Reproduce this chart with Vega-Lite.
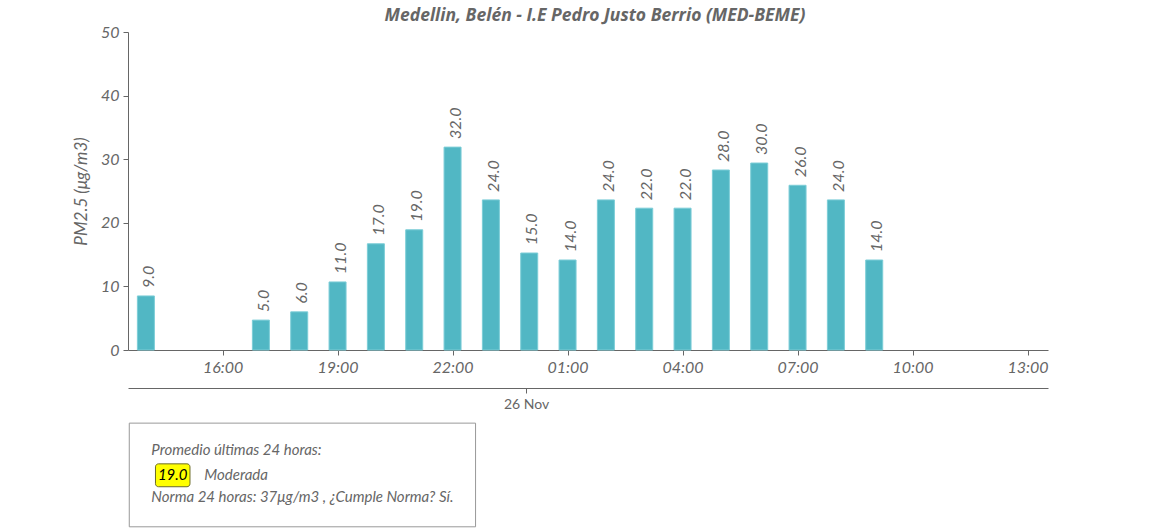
{
  "$schema": "https://vega.github.io/schema/vega-lite/v6.json",
  "width": 920,
  "height": 318,
  "autosize": {"type": "none"},
  "padding": {"left": 128, "top": 32, "right": 102, "bottom": 180},
  "background": "white",
  "config": {"view": {"stroke": null}, "font": "Lato"},
  "title": {
    "text": "Medellin, Belén - I.E Pedro Justo Berrio (MED-BEME)",
    "font": "Open Sans",
    "fontSize": 17.5,
    "fontStyle": "italic",
    "fontWeight": "bold",
    "color": "#666666",
    "anchor": "middle",
    "dx": 7,
    "offset": 0
  },
  "datasets": {
    "pm": [
      {"t": "2024-11-25T14:00:00", "value": 8.5, "label": "9.0"},
      {"t": "2024-11-25T17:00:00", "value": 4.7, "label": "5.0"},
      {"t": "2024-11-25T18:00:00", "value": 6.0, "label": "6.0"},
      {"t": "2024-11-25T19:00:00", "value": 10.7, "label": "11.0"},
      {"t": "2024-11-25T20:00:00", "value": 16.7, "label": "17.0"},
      {"t": "2024-11-25T21:00:00", "value": 18.9, "label": "19.0"},
      {"t": "2024-11-25T22:00:00", "value": 31.9, "label": "32.0"},
      {"t": "2024-11-25T23:00:00", "value": 23.6, "label": "24.0"},
      {"t": "2024-11-26T00:00:00", "value": 15.25, "label": "15.0"},
      {"t": "2024-11-26T01:00:00", "value": 14.15, "label": "14.0"},
      {"t": "2024-11-26T02:00:00", "value": 23.6, "label": "24.0"},
      {"t": "2024-11-26T03:00:00", "value": 22.3, "label": "22.0"},
      {"t": "2024-11-26T04:00:00", "value": 22.3, "label": "22.0"},
      {"t": "2024-11-26T05:00:00", "value": 28.3, "label": "28.0"},
      {"t": "2024-11-26T06:00:00", "value": 29.4, "label": "30.0"},
      {"t": "2024-11-26T07:00:00", "value": 25.9, "label": "26.0"},
      {"t": "2024-11-26T08:00:00", "value": 23.6, "label": "24.0"},
      {"t": "2024-11-26T09:00:00", "value": 14.15, "label": "14.0"}
    ],
    "box": [
      {"t": "2024-11-25T13:34:00", "t2": "2024-11-25T22:36:00", "value": -11.5, "value2": -27.8}
    ],
    "badge": [
      {"t": "2024-11-25T14:15:00", "t2": "2024-11-25T15:09:00", "value": -17.9, "value2": -21.5, "tc": "2024-11-25T14:42:00", "vc": -20.4, "text": "19.0"}
    ],
    "notes": [
      {"t": "2024-11-25T14:08:30", "value": -16.5, "text": "Promedio últimas 24 horas:"},
      {"t": "2024-11-25T15:31:30", "value": -20.4, "text": "Moderada"},
      {"t": "2024-11-25T14:08:30", "value": -23.9, "text": "Norma 24 horas: 37μg/m3 , ¿Cumple Norma? Sí."}
    ]
  },
  "resolve": {"axis": {"x": "independent"}},
  "layer": [
    {
      "data": {"name": "pm"},
      "mark": {"type": "bar", "width": 17, "fill": "#51b7c4", "stroke": "#7ccdd7", "strokeWidth": 1},
      "encoding": {
        "x": {
          "field": "t", "type": "temporal",
          "scale": {"domain": [
            {"year": 2024, "month": 11, "date": 25, "hours": 13, "minutes": 32},
            {"year": 2024, "month": 11, "date": 26, "hours": 13, "minutes": 32}
          ], "nice": false, "padding": 0},
          "axis": {
            "title": null,
            "format": "%H:%M",
            "values": [
              {"year": 2024, "month": 11, "date": 25, "hours": 16},
              {"year": 2024, "month": 11, "date": 25, "hours": 19},
              {"year": 2024, "month": 11, "date": 25, "hours": 22},
              {"year": 2024, "month": 11, "date": 26, "hours": 1},
              {"year": 2024, "month": 11, "date": 26, "hours": 4},
              {"year": 2024, "month": 11, "date": 26, "hours": 7},
              {"year": 2024, "month": 11, "date": 26, "hours": 10},
              {"year": 2024, "month": 11, "date": 26, "hours": 13}
            ],
            "grid": false,
            "domainColor": "#666666",
            "tickColor": "#666666",
            "tickSize": 5,
            "labelFont": "Lato",
            "labelFontSize": 16,
            "labelFontStyle": "italic",
            "labelColor": "#666666",
            "labelPadding": 4,
            "labelFlush": false,
            "labelOverlap": false
          }
        },
        "y": {
          "field": "value", "type": "quantitative",
          "scale": {"domain": [0, 50], "nice": false, "padding": 0},
          "axis": {
            "title": "PM2.5 (μg/m3)",
            "titleFont": "Lato",
            "titleFontSize": 17,
            "titleFontStyle": "italic",
            "titleFontWeight": "normal",
            "titleColor": "#666666",
            "titlePadding": 10,
            "values": [0, 10, 20, 30, 40, 50],
            "grid": false,
            "domainColor": "#666666",
            "tickColor": "#666666",
            "tickSize": 5,
            "labelFont": "Lato",
            "labelFontSize": 16,
            "labelFontStyle": "italic",
            "labelColor": "#666666",
            "labelPadding": 4
          }
        }
      }
    },
    {
      "data": {"name": "pm"},
      "mark": {"type": "text", "angle": -90, "align": "left", "baseline": "middle", "dx": 8, "dy": 3, "font": "Lato", "fontSize": 16, "fontStyle": "italic", "fill": "#666666"},
      "encoding": {
        "x": {
          "field": "t", "type": "temporal",
          "scale": {"domain": [
            {"year": 2024, "month": 11, "date": 25, "hours": 13, "minutes": 32},
            {"year": 2024, "month": 11, "date": 26, "hours": 13, "minutes": 32}
          ], "nice": false, "padding": 0},
          "axis": {
            "orient": "bottom",
            "offset": 38,
            "title": null,
            "format": "%d %b",
            "values": [{"year": 2024, "month": 11, "date": 25, "hours": 23, "minutes": 55}],
            "grid": false,
            "domainColor": "#666666",
            "tickColor": "#666666",
            "tickSize": 5,
            "labelFont": "Lato",
            "labelFontSize": 14,
            "labelColor": "#666666",
            "labelPadding": 4,
            "labelExpr": "'26 Nov'"
          }
        },
        "y": {"field": "value", "type": "quantitative", "scale": {"domain": [0, 50], "nice": false, "padding": 0}},
        "text": {"field": "label"}
      }
    },
    {
      "data": {"name": "box"},
      "mark": {"type": "rect", "fill": "white", "stroke": "#999999", "strokeWidth": 1},
      "encoding": {
        "x": {"field": "t", "type": "temporal", "axis": null},
        "x2": {"field": "t2"},
        "y": {"field": "value", "type": "quantitative"},
        "y2": {"field": "value2"}
      }
    },
    {
      "data": {"name": "badge"},
      "mark": {"type": "rect", "fill": "#ffff00", "stroke": "#6b6b2a", "strokeWidth": 1, "cornerRadius": 3},
      "encoding": {
        "x": {"field": "t", "type": "temporal", "axis": null},
        "x2": {"field": "t2"},
        "y": {"field": "value", "type": "quantitative"},
        "y2": {"field": "value2"}
      }
    },
    {
      "data": {"name": "badge"},
      "mark": {"type": "text", "align": "center", "baseline": "alphabetic", "font": "Lato", "fontSize": 15, "fontStyle": "italic", "fill": "#000000"},
      "encoding": {
        "x": {"field": "tc", "type": "temporal", "axis": null},
        "y": {"field": "vc", "type": "quantitative"},
        "text": {"field": "text"}
      }
    },
    {
      "data": {"name": "notes"},
      "mark": {"type": "text", "align": "left", "baseline": "alphabetic", "font": "Lato", "fontSize": 15, "fontStyle": "italic", "fill": "#666666"},
      "encoding": {
        "x": {"field": "t", "type": "temporal", "axis": null},
        "y": {"field": "value", "type": "quantitative"},
        "text": {"field": "text"}
      }
    }
  ]
}
